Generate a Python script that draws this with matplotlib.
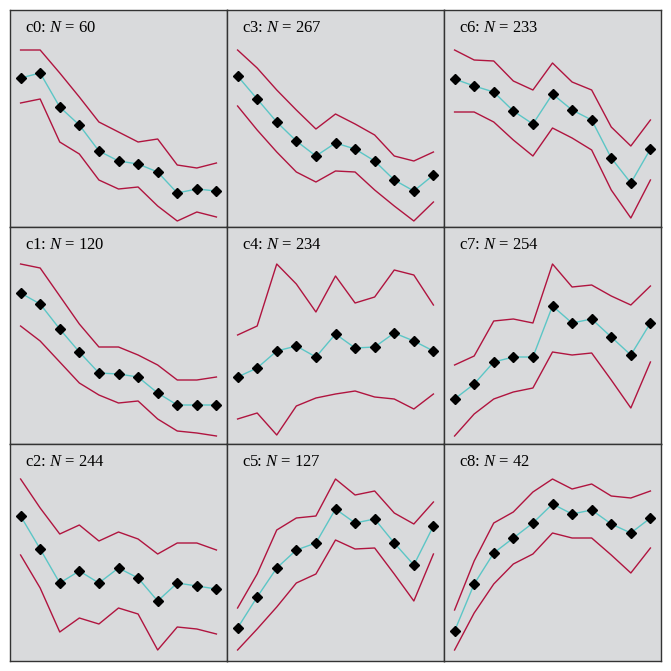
import matplotlib.pyplot as plt

plt.rcParams["font.family"] = "Liberation Serif"
plt.rcParams["mathtext.fontset"] = "custom"
plt.rcParams["mathtext.rm"] = "Liberation Serif"
plt.rcParams["mathtext.it"] = "Liberation Serif:italic"

# cluster labels and sizes, in the order of the grid (column by column)
names = ["c0", "c1", "c2", "c3", "c4", "c5", "c6", "c7", "c8"]
sizes = [60, 120, 244, 267, 234, 127, 233, 254, 42]

steps = list(range(11))

# mean profile of each cluster
mean_c0 = [149, 154, 120, 102, 76, 66, 63, 55, 34, 38, 36]
mean_c1 = [151, 140, 115, 92, 71, 70, 67, 51, 39, 39, 39]
mean_c2 = [145, 112, 78, 90, 78, 93, 83, 60, 78, 75, 72]
mean_c3 = [151, 128, 105, 86, 71, 84, 78, 66, 47, 36, 52]
mean_c4 = [67, 76, 93, 98, 87, 110, 96, 97, 111, 103, 93]
mean_c5 = [33, 64, 93, 111, 118, 152, 138, 142, 118, 96, 135]
mean_c6 = [148, 141, 135, 116, 103, 133, 117, 107, 69, 44, 78]
mean_c7 = [45, 60, 82, 87, 87, 138, 121, 125, 107, 89, 121]
mean_c8 = [30, 77, 108, 123, 138, 157, 147, 151, 137, 128, 143]

# upper band
upper_c0 = [177, 177, 154, 130, 105, 95, 85, 88, 62, 59, 64]
upper_c1 = [180, 176, 148, 120, 97, 97, 89, 79, 64, 64, 67]
upper_c2 = [182, 153, 127, 136, 120, 129, 122, 107, 118, 118, 111]
upper_c3 = [177, 159, 137, 117, 98, 113, 103, 92, 71, 66, 75]
upper_c4 = [109, 118, 180, 160, 132, 168, 141, 147, 174, 169, 139]
upper_c5 = [53, 87, 131, 143, 145, 182, 166, 170, 148, 137, 159]
upper_c6 = [177, 167, 166, 146, 137, 164, 145, 137, 100, 81, 107]
upper_c7 = [79, 88, 123, 125, 121, 180, 157, 159, 148, 139, 158]
upper_c8 = [51, 100, 138, 149, 169, 182, 172, 177, 165, 163, 170]

# lower band
lower_c0 = [124, 128, 85, 73, 47, 38, 40, 21, 6, 15, 10]
lower_c1 = [118, 103, 82, 61, 49, 41, 43, 25, 13, 11, 8]
lower_c2 = [106, 73, 29, 43, 37, 53, 47, 11, 34, 32, 27]
lower_c3 = [121, 97, 75, 55, 45, 56, 55, 37, 21, 6, 25]
lower_c4 = [25, 31, 9, 38, 46, 50, 53, 47, 45, 35, 50]
lower_c5 = [11, 32, 54, 78, 87, 121, 112, 113, 87, 60, 107]
lower_c6 = [115, 115, 105, 87, 71, 99, 89, 77, 37, 9, 47]
lower_c7 = [8, 30, 45, 52, 56, 92, 89, 91, 64, 36, 82]
lower_c8 = [11, 48, 77, 97, 107, 128, 123, 123, 106, 88, 113]

means = [mean_c0, mean_c1, mean_c2, mean_c3, mean_c4, mean_c5, mean_c6, mean_c7, mean_c8]
uppers = [upper_c0, upper_c1, upper_c2, upper_c3, upper_c4, upper_c5, upper_c6, upper_c7, upper_c8]
lowers = [lower_c0, lower_c1, lower_c2, lower_c3, lower_c4, lower_c5, lower_c6, lower_c7, lower_c8]

W = 671.0
x0, y_top = 10, 10
pw, ph = 217, 217

fig = plt.figure(figsize=(6.71, 6.71), dpi=100)

for i in range(9):
    col = i // 3
    row = i % 3
    left = (x0 + col * pw) / W
    bottom = 1 - (y_top + (row + 1) * ph) / W
    ax = fig.add_axes([left, bottom, pw / W, ph / W])
    ax.set_facecolor("#d9dadc")

    ax.plot(steps, uppers[i], color="#b0143f", lw=1.0)
    ax.plot(steps, lowers[i], color="#b0143f", lw=1.0)
    ax.plot(steps, means[i], color="#5cc6c6", lw=1.0, marker="D",
            markersize=4.6, mfc="black", mec="black")

    ax.set_xlim(-0.54, 10.54)
    ax.set_ylim(0, 217)
    ax.set_xticks([])
    ax.set_yticks([])
    for s in ax.spines.values():
        s.set_color("#333333")
        s.set_linewidth(1.0)

    ax.text(0.07, 0.915, names[i] + ": $N$ = " + str(sizes[i]),
            transform=ax.transAxes, fontsize=12, va="center", ha="left")

plt.savefig("out.png", dpi=100)
